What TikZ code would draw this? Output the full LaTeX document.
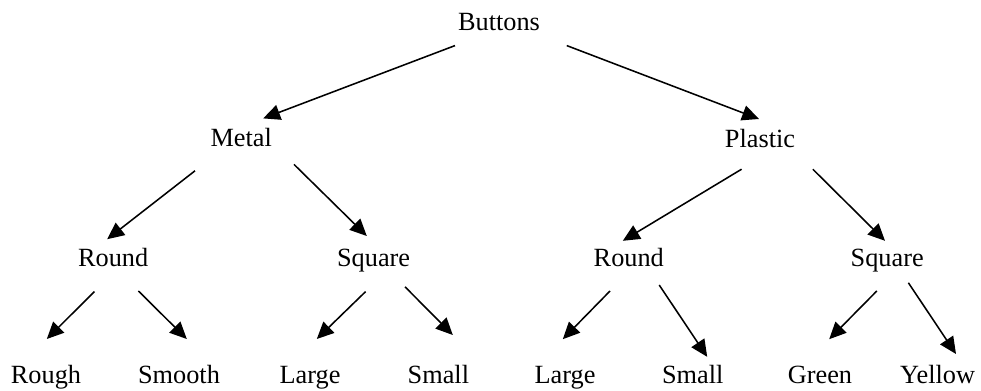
\documentclass[tikz,border=0pt]{standalone}
\usepackage{fontspec}
\setmainfont{Liberation Serif}
\usepackage{tikz}
\usetikzlibrary{arrows.meta,positioning}

\begin{document}
\begin{tikzpicture}[
        lbl/.style={anchor=base, inner sep=0pt, font=\fontsize{18.7}{22}\selectfont},
        arr/.style={-{Triangle[length=12pt,width=11pt]}, line width=1.1pt}
    ]
            \useasboundingbox (0,0) rectangle (24.525,9.75);

            \node[lbl] (buttons) at (12.475, 8.98) {Buttons};
            \node[lbl] (metal) at (6.03, 6.08) {Metal};
            \node[lbl] (plastic) at (19.0, 6.07) {Plastic};

            \node[lbl] (mround) at (2.83, 3.1) {Round};
            \node[lbl] (msquare) at (9.34, 3.1) {Square};
            \node[lbl] (pround) at (15.72, 3.1) {Round};
            \node[lbl] (psquare) at (22.18, 3.1) {Square};

            \node[lbl] (rough) at (1.15, 0.17) {Rough};
            \node[lbl] (smooth) at (4.475, 0.17) {Smooth};
            \node[lbl] (mlarge) at (7.75, 0.17) {Large};
            \node[lbl] (msmall) at (10.96, 0.17) {Small};
            \node[lbl] (plarge) at (14.125, 0.17) {Large};
            \node[lbl] (psmall) at (17.32, 0.17) {Small};
            \node[lbl] (green) at (20.5, 0.17) {Green};
            \node[lbl] (yellow) at (23.44, 0.17) {Yellow};

            % arrow ends sit a little off the words
            \foreach \n/\x/\y in {bm-s/11.375/8.61, bm-e/6.58/6.79,
                                  bp-s/14.17/8.61, bp-e/18.975/6.775,
                                  mr-s/4.875/5.48, mr-e/2.68/3.77,
                                  ms-s/7.35/5.64, ms-e/9.17/3.85,
                                  pr-s/18.54/5.52, pr-e/15.57/3.73,
                                  ps-s/20.32/5.52, ps-e/22.125/3.73,
                                  rr-s/2.36/2.46, rr-e/1.17/1.275,
                                  rs-s/3.46/2.475, rs-e/4.67/1.275,
                                  sl-s/9.14/2.46, sl-e/7.92/1.275,
                                  ss-s/10.125/2.58, ss-e/11.32/1.375,
                                  pl-s/15.25/2.475, pl-e/14.07/1.27,
                                  pm-s/16.48/2.625, pm-e/17.68/0.83,
                                  sg-s/21.92/2.475, sg-e/20.73/1.27,
                                  sy-s/22.71/2.68, sy-e/23.9/0.9}
                \coordinate (\n) at (\x, \y);

            \draw[arr] (bm-s) -- (bm-e);
            \draw[arr] (bp-s) -- (bp-e);
            \draw[arr] (mr-s) -- (mr-e);
            \draw[arr] (ms-s) -- (ms-e);
            \draw[arr] (pr-s) -- (pr-e);
            \draw[arr] (ps-s) -- (ps-e);
            \draw[arr] (rr-s) -- (rr-e);
            \draw[arr] (rs-s) -- (rs-e);
            \draw[arr] (sl-s) -- (sl-e);
            \draw[arr] (ss-s) -- (ss-e);
            \draw[arr] (pl-s) -- (pl-e);
            \draw[arr] (pm-s) -- (pm-e);
            \draw[arr] (sg-s) -- (sg-e);
            \draw[arr] (sy-s) -- (sy-e);

        \end{tikzpicture}
\end{document}
